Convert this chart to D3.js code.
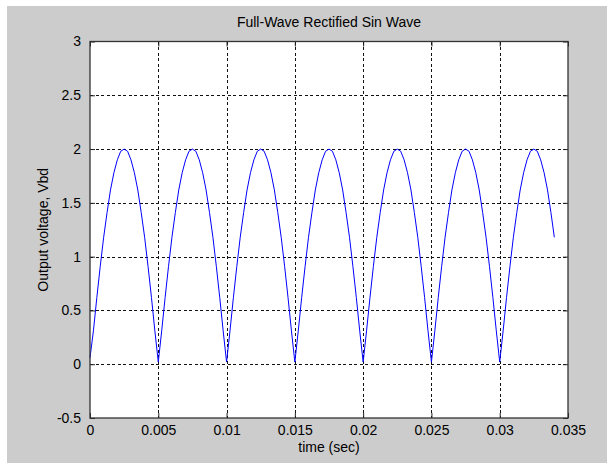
<!DOCTYPE html>
<html>
<head>
<meta charset="utf-8">
<script src="https://cdn.jsdelivr.net/npm/d3@7"></script>
<style>
  body { margin: 0; background: #fff; }
  svg text { font-family: "Liberation Sans", Arial, sans-serif; fill: #000; }
</style>
</head>
<body>
<div id="chart"></div>
<script>
// Sample times (sec) and output voltage.
const timeSec = [
  0, 0.00025, 0.0005, 0.00075, 0.001, 0.00125, 0.0015, 0.00175, 0.002, 0.00225,
  0.0025, 0.00275, 0.003, 0.00325, 0.0035, 0.00375, 0.004, 0.00425, 0.0045, 0.00475,
  0.005, 0.00525, 0.0055, 0.00575, 0.006, 0.00625, 0.0065, 0.00675, 0.007, 0.00725,
  0.0075, 0.00775, 0.008, 0.00825, 0.0085, 0.00875, 0.009, 0.00925, 0.0095, 0.00975,
  0.01, 0.01025, 0.0105, 0.01075, 0.011, 0.01125, 0.0115, 0.01175, 0.012, 0.01225,
  0.0125, 0.01275, 0.013, 0.01325, 0.0135, 0.01375, 0.014, 0.01425, 0.0145, 0.01475,
  0.015, 0.01525, 0.0155, 0.01575, 0.016, 0.01625, 0.0165, 0.01675, 0.017, 0.01725,
  0.0175, 0.01775, 0.018, 0.01825, 0.0185, 0.01875, 0.019, 0.01925, 0.0195, 0.01975,
  0.02, 0.02025, 0.0205, 0.02075, 0.021, 0.02125, 0.0215, 0.02175, 0.022, 0.02225,
  0.0225, 0.02275, 0.023, 0.02325, 0.0235, 0.02375, 0.024, 0.02425, 0.0245, 0.02475,
  0.025, 0.02525, 0.0255, 0.02575, 0.026, 0.02625, 0.0265, 0.02675, 0.027, 0.02725,
  0.0275, 0.02775, 0.028, 0.02825, 0.0285, 0.02875, 0.029, 0.02925, 0.0295, 0.02975,
  0.03, 0.03025, 0.0305, 0.03075, 0.031, 0.03125, 0.0315, 0.03175, 0.032, 0.03225,
  0.0325, 0.03275, 0.033, 0.03325, 0.0335, 0.03375, 0.034
];
const voltage = [
  0.06, 0.31, 0.62, 0.91, 1.18, 1.41, 1.62, 1.78, 1.90, 1.98,
  2.00, 1.98, 1.90, 1.78, 1.62, 1.41, 1.18, 0.91, 0.62, 0.31,
  0.02, 0.31, 0.62, 0.91, 1.18, 1.41, 1.62, 1.78, 1.90, 1.98,
  2.00, 1.98, 1.90, 1.78, 1.62, 1.41, 1.18, 0.91, 0.62, 0.31,
  0.02, 0.31, 0.62, 0.91, 1.18, 1.41, 1.62, 1.78, 1.90, 1.98,
  2.00, 1.98, 1.90, 1.78, 1.62, 1.41, 1.18, 0.91, 0.62, 0.31,
  0.02, 0.31, 0.62, 0.91, 1.18, 1.41, 1.62, 1.78, 1.90, 1.98,
  2.00, 1.98, 1.90, 1.78, 1.62, 1.41, 1.18, 0.91, 0.62, 0.31,
  0.02, 0.31, 0.62, 0.91, 1.18, 1.41, 1.62, 1.78, 1.90, 1.98,
  2.00, 1.98, 1.90, 1.78, 1.62, 1.41, 1.18, 0.91, 0.62, 0.31,
  0.02, 0.31, 0.62, 0.91, 1.18, 1.41, 1.62, 1.78, 1.90, 1.98,
  2.00, 1.98, 1.90, 1.78, 1.62, 1.41, 1.18, 0.91, 0.62, 0.31,
  0.02, 0.31, 0.62, 0.91, 1.18, 1.41, 1.62, 1.78, 1.90, 1.98,
  2.00, 1.98, 1.90, 1.78, 1.62, 1.41, 1.18
];
const xTicks = [0, 0.005, 0.01, 0.015, 0.02, 0.025, 0.03, 0.035];
const xTickLabels = ['0', '0.005', '0.01', '0.015', '0.02', '0.025', '0.03', '0.035'];
const yTicks = [-0.5, 0, 0.5, 1, 1.5, 2, 2.5, 3];
const yTickLabels = ['-0.5', '0', '0.5', '1', '1.5', '2', '2.5', '3'];

const width = 613, height = 465;
const plot = { left: 90, right: 568, top: 41.5, bottom: 418 };

const svg = d3.select('#chart').append('svg')
    .attr('width', width)
    .attr('height', height);

// Figure background
svg.append('rect')
    .attr('x', 7).attr('y', 6)
    .attr('width', 600).attr('height', 457)
    .attr('fill', '#cccccc');

const x = d3.scaleLinear().domain([0, 0.035]).range([plot.left, plot.right]);
const y = d3.scaleLinear().domain([-0.5, 3]).range([plot.bottom, plot.top]);

svg.append('rect')
    .attr('x', plot.left).attr('y', plot.top)
    .attr('width', plot.right - plot.left).attr('height', plot.bottom - plot.top)
    .attr('fill', '#fff');

// Grid lines
const grid = svg.append('g')
    .attr('stroke', '#111')
    .attr('stroke-width', 1)
    .attr('stroke-dasharray', '3,2.5')
    .attr('shape-rendering', 'crispEdges');

grid.selectAll('.gx')
    .data(xTicks.slice(1, -1))
    .enter().append('line')
    .attr('x1', (d) => Math.round(x(d)) + 0.5).attr('x2', (d) => Math.round(x(d)) + 0.5)
    .attr('y1', plot.top).attr('y2', plot.bottom);

grid.selectAll('.gy')
    .data(yTicks.slice(1, -1))
    .enter().append('line')
    .attr('y1', (d) => Math.round(y(d)) + 0.5).attr('y2', (d) => Math.round(y(d)) + 0.5)
    .attr('x1', plot.left).attr('x2', plot.right);

// Signal trace
const line = d3.line()
    .x((d, i) => x(timeSec[i]))
    .y((d) => y(d));

svg.append('path')
    .datum(voltage)
    .attr('d', line)
    .attr('fill', 'none')
    .attr('stroke', '#0000ff')
    .attr('stroke-width', 1);

// Axes (MATLAB style: inward ticks on all four sides)
const bottomAxis = d3.axisBottom(x).tickValues(xTicks)
    .tickFormat((d, i) => xTickLabels[i]).tickSizeInner(-5).tickSizeOuter(0).tickPadding(7);
const topAxis = d3.axisTop(x).tickValues(xTicks)
    .tickFormat('').tickSizeInner(-5).tickSizeOuter(0);
const leftAxis = d3.axisLeft(y).tickValues(yTicks)
    .tickFormat((d, i) => yTickLabels[i]).tickSizeInner(-5).tickSizeOuter(0).tickPadding(9);
const rightAxis = d3.axisRight(y).tickValues(yTicks)
    .tickFormat('').tickSizeInner(-5).tickSizeOuter(0);

const styleAxis = (g) => {
  g.selectAll('.domain').remove();
  g.selectAll('line').attr('stroke', '#222');
  g.selectAll('text').attr('font-size', 14).attr('fill', '#000')
      .attr('font-family', '"Liberation Sans", Arial, sans-serif');
};

svg.append('g').attr('transform', 'translate(0,' + plot.bottom + ')').call(bottomAxis).call(styleAxis);
svg.append('g').attr('transform', 'translate(0,' + plot.top + ')').call(topAxis).call(styleAxis);
svg.append('g').attr('transform', 'translate(' + plot.left + ',0)').call(leftAxis).call(styleAxis);
svg.append('g').attr('transform', 'translate(' + plot.right + ',0)').call(rightAxis).call(styleAxis);

// Axes box
svg.append('rect')
    .attr('x', plot.left).attr('y', plot.top)
    .attr('width', plot.right - plot.left).attr('height', plot.bottom - plot.top)
    .attr('fill', 'none')
    .attr('stroke', '#333')
    .attr('stroke-width', 1.3);

// Titles
svg.append('text')
    .attr('x', (plot.left + plot.right) / 2).attr('y', 27)
    .attr('text-anchor', 'middle')
    .attr('font-size', 14)
    .text('Full-Wave Rectified Sin Wave');

svg.append('text')
    .attr('x', (plot.left + plot.right) / 2).attr('y', 452)
    .attr('text-anchor', 'middle')
    .attr('font-size', 14)
    .text('time (sec)');

svg.append('text')
    .attr('transform', 'translate(48,' + (plot.top + plot.bottom) / 2 + ') rotate(-90)')
    .attr('text-anchor', 'middle')
    .attr('font-size', 14)
    .text('Output voltage, Vbd');
</script>
</body>
</html>
